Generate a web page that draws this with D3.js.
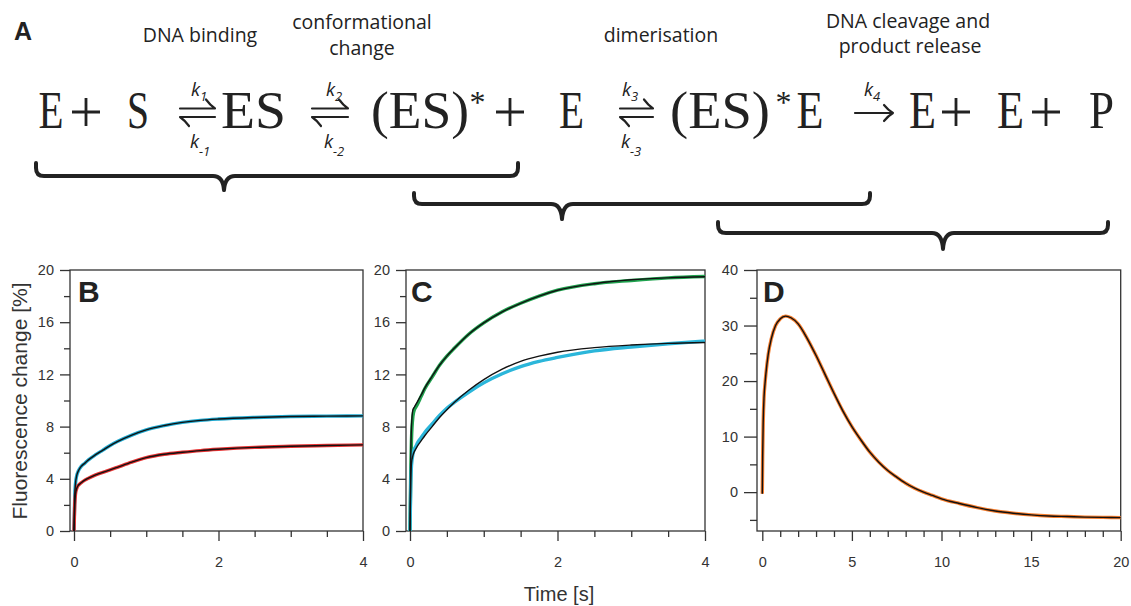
<!DOCTYPE html>
<html><head><meta charset="utf-8">
<script src="https://cdn.jsdelivr.net/npm/d3@7"></script>
<style>body{margin:0;background:#fff}svg{display:block}</style>
</head><body><svg id="c" width="1131" height="606"></svg>
<script>
// ---------- data ----------
const tBC = [0, 0.01, 0.02, 0.04, 0.06, 0.08, 0.1, 0.15, 0.2, 0.3, 0.4, 0.5, 0.6, 0.8, 1.0, 1.25, 1.5, 1.75, 2.0, 2.5, 3.0, 3.5, 4.0];
const cyanB = [0, 2.6, 3.6, 4.3, 4.6, 4.8, 4.95, 5.2, 5.45, 5.85, 6.2, 6.55, 6.85, 7.35, 7.75, 8.08, 8.32, 8.48, 8.58, 8.7, 8.77, 8.8, 8.82];
const redB  = [0, 2.0, 2.8, 3.3, 3.5, 3.6, 3.7, 3.9, 4.05, 4.3, 4.5, 4.68, 4.88, 5.28, 5.62, 5.88, 6.03, 6.16, 6.26, 6.41, 6.49, 6.55, 6.6];
const greenC    = [0, 4.5, 7.0, 8.8, 9.3, 9.5, 9.7, 10.3, 10.9, 11.8, 12.7, 13.4, 14.0, 15.1, 15.95, 16.8, 17.45, 18.0, 18.45, 18.95, 19.2, 19.4, 19.5];
const greenCFit = [0, 5.5, 8.0, 9.3, 9.5, 9.7, 9.9, 10.4, 10.95, 11.85, 12.7, 13.4, 14.0, 15.1, 15.95, 16.8, 17.45, 18.0, 18.45, 18.95, 19.25, 19.4, 19.48];
const cyanC     = [0, 3.5, 5.0, 5.9, 6.3, 6.5, 6.75, 7.15, 7.55, 8.2, 8.85, 9.4, 9.85, 10.65, 11.35, 12.05, 12.6, 13.0, 13.3, 13.8, 14.1, 14.35, 14.55];
const cyanCFit  = [0, 3.8, 5.2, 5.8, 6.1, 6.3, 6.5, 6.9, 7.3, 8.0, 8.7, 9.3, 9.85, 10.8, 11.6, 12.4, 13.0, 13.4, 13.7, 14.05, 14.25, 14.38, 14.45];
const tD = [0, 0.02, 0.05, 0.1, 0.15, 0.2, 0.33, 0.5, 0.74, 1.0, 1.3, 1.6, 2.0, 2.5, 3.0, 3.5, 4.0, 4.5, 5.0, 5.5, 6.0, 6.5, 7.0, 7.5, 8.0, 8.5, 9.0, 9.5, 10, 11, 12, 13, 14, 15, 16, 17, 18, 19, 20];
const orangeD = [-0.3, 6.5, 12.5, 17.3, 19.5, 21.3, 24.8, 27.6, 30.0, 31.2, 31.7, 31.4, 30.3, 27.7, 24.6, 21.2, 17.8, 14.6, 11.8, 9.4, 7.2, 5.4, 3.9, 2.7, 1.6, 0.7, 0.0, -0.6, -1.2, -2.05, -2.8, -3.4, -3.8, -4.1, -4.3, -4.4, -4.5, -4.55, -4.6];

const yMajorBC = [0, 4, 8, 12, 16, 20];
const yMinorBC = [2, 6, 10, 14, 18];
const xMajorBC = [0, 2, 4];
const xMinorBC = [0.5, 1, 1.5, 2.5, 3, 3.5];
const yMajorD = [0, 10, 20, 30, 40];
const yMinorD = [-5, 5, 15, 25, 35];
const xMajorD = [0, 5, 10, 15, 20];
const xMinorD = [1,2,3,4,6,7,8,9,11,12,13,14,16,17,18,19];

const stepLabels = ["DNA binding", "conformational", "change", "dimerisation", "DNA cleavage and", "product release"];
const eqTokens = ["E", "S", "ES", "(ES)", "E", "(ES)", "E", "E", "E", "P"];

// ---------- drawing ----------
const svg = d3.select("#c");
const ink = "#222";

// Panel A: scheme
svg.append("text").attr("x", 14).attr("y", 40).text("A")
  .attr("font-family", "Liberation Sans, Arial, sans-serif").attr("font-weight", "bold")
  .attr("font-size", 25).attr("fill", ink);

const labPos = [[200, 42], [362, 29], [362, 55], [661, 42], [908, 28], [910, 53]];
stepLabels.forEach((s, i) => {
  svg.append("text").attr("x", labPos[i][0]).attr("y", labPos[i][1]).text(s)
    .attr("text-anchor", "middle").attr("font-family", "Open Sans, sans-serif")
    .attr("font-size", 19.5).attr("fill", ink);
});

const eqX = [51, 138, 253.5, 420, 571.5, 720, 810, 922.5, 1010.5, 1101.5];
const eqW = [25, 22, 65, 98, 25, 100, 27, 27, 27, 25];
eqTokens.forEach((s, i) => {
  svg.append("text").attr("x", eqX[i]).attr("y", 128).text(s)
    .attr("text-anchor", "middle").attr("font-family", "Liberation Serif, serif")
    .attr("font-size", 52).attr("fill", ink)
    .attr("textLength", eqW[i]).attr("lengthAdjust", "spacingAndGlyphs");
});
[477.5, 783.5].forEach(cx => {
  svg.append("text").attr("x", cx).attr("y", 113).text("*")
    .attr("text-anchor", "middle").attr("font-family", "Liberation Serif, serif")
    .attr("font-size", 32).attr("fill", ink);
});
// plus signs
[86, 510, 956, 1046].forEach(cx => {
  svg.append("path").attr("d", `M${cx-14},112 H${cx+14} M${cx},98 V126`)
    .attr("stroke", ink).attr("stroke-width", 2.8).attr("fill", "none");
});

// equilibrium harpoons
[[180, 215], [312, 348], [620, 653]].forEach(([a, b]) => {
  svg.append("path")
    .attr("d", `M${a},108.5 L${b},108.5 Q${b-5},105 ${b-9},99.5 M${b},117 L${a},117 Q${a+5},120.5 ${a+9},126`)
    .attr("fill", "none").attr("stroke", ink).attr("stroke-width", 2.2)
    .attr("stroke-linejoin", "round").attr("stroke-linecap", "round");
});
svg.append("path").attr("d", "M855,113 L893,113 M884,105 Q888,110 893,113 Q888,116 884,121")
  .attr("fill", "none").attr("stroke", ink).attr("stroke-width", 2.2)
  .attr("stroke-linejoin", "round").attr("stroke-linecap", "round");

// rate constants
const kUp = [["1", 191], ["2", 326], ["3", 622], ["4", 864]];
const kDown = [["-1", 190], ["-2", 324], ["-3", 621]];
function kLabel(sub, x, y, dy) {
  const t = svg.append("text").attr("x", x).attr("y", y)
    .attr("font-family", "Open Sans, sans-serif").attr("font-style", "italic")
    .attr("font-size", 18.5).attr("fill", ink);
  t.append("tspan").text("k");
  t.append("tspan").attr("dy", dy).attr("font-size", 13).text(sub);
}
kUp.forEach(([s, x]) => kLabel(s, x, 96, 5));
kDown.forEach(([s, x]) => kLabel(s, x, 148, 8));

// braces
function brace(x0, x1, xc, top, line, tip) {
  const r = 8, r2 = 11;
  const d = `M${x0},${top} L${x0},${line-r} Q${x0},${line} ${x0+r},${line} L${xc-r2},${line} Q${xc-1},${line} ${xc},${tip}` +
            ` M${xc},${tip} Q${xc+1},${line} ${xc+r2},${line} L${x1-r},${line} Q${x1},${line} ${x1},${line-r} L${x1},${top}`;
  svg.append("path").attr("d", d).attr("fill", "none").attr("stroke", ink)
    .attr("stroke-width", 4).attr("stroke-linecap", "round").attr("stroke-linejoin", "round");
}
brace(36, 518, 224, 163, 176, 190);
brace(414, 870, 562, 193, 204, 219);
brace(718, 1108, 943, 222, 233, 249);

// ---------- plots ----------
const axisCol = "#333";
function panel(cfg) {
  const x = d3.scaleLinear().domain(cfg.xd).range([cfg.px0, cfg.px1]);
  const y = d3.scaleLinear().domain(cfg.yd).range([531, 270]);
  const g = svg.append("g");
  const styleAxis = s => {
    s.select(".domain").remove();
    s.selectAll("line").attr("stroke", axisCol).attr("stroke-width", 1.3);
    s.selectAll("text").attr("fill", axisCol).attr("font-size", 14.5)
      .attr("font-family", "Liberation Sans, Arial, sans-serif");
  };
  g.append("g").attr("transform", `translate(${cfg.spine},0)`)
    .call(d3.axisLeft(y).tickValues(cfg.yMajor).tickSize(cfg.tMaj).tickPadding(6)).call(styleAxis);
  g.append("g").attr("transform", `translate(${cfg.spine},0)`)
    .call(d3.axisLeft(y).tickValues(cfg.yMinor).tickSize(cfg.tMin).tickFormat("")).call(styleAxis);
  g.append("g").attr("transform", `translate(0,531)`)
    .call(d3.axisBottom(x).tickValues(cfg.xMajor).tickSize(10).tickPadding(16).tickFormat(d3.format("d"))).call(styleAxis);
  g.append("g").attr("transform", `translate(0,531)`)
    .call(d3.axisBottom(x).tickValues(cfg.xMinor).tickSize(6).tickFormat("")).call(styleAxis);
  g.append("rect").attr("x", cfg.spine).attr("y", 270).attr("width", cfg.px1 - cfg.spine)
    .attr("height", 261).attr("fill", "none").attr("stroke", axisCol).attr("stroke-width", 1.3);

  cfg.series.forEach(s => {
    const line = d3.line().x((d, i) => x(s.t[i])).y(d => y(d)).curve(d3.curveMonotoneX);
    g.append("path").datum(s.v).attr("d", line).attr("fill", "none")
      .attr("stroke", s.color).attr("stroke-width", 3.4).attr("stroke-linejoin", "round");
  });
  cfg.series.forEach(s => {
    const line = d3.line().x((d, i) => x(s.t[i])).y(d => y(d)).curve(d3.curveMonotoneX);
    g.append("path").datum(s.fit).attr("d", line).attr("fill", "none")
      .attr("stroke", "#111").attr("stroke-width", 1.4).attr("stroke-linejoin", "round");
  });
  g.append("text").attr("x", cfg.letterX).attr("y", 302).text(cfg.letter)
    .attr("font-family", "Liberation Sans, Arial, sans-serif").attr("font-weight", "bold")
    .attr("font-size", 30).attr("fill", ink);
}

panel({xd: [0, 4], yd: [0, 20], px0: 74, px1: 363, spine: 70, tMaj: 10, tMin: 6,
  yMajor: yMajorBC, yMinor: yMinorBC, xMajor: xMajorBC, xMinor: xMinorBC, letter: "B", letterX: 78,
  series: [{t: tBC, v: cyanB, fit: cyanB, color: "#1ea8cf"}, {t: tBC, v: redB, fit: redB, color: "#e63232"}]});
panel({xd: [0, 4], yd: [0, 20], px0: 410, px1: 705, spine: 406, tMaj: 10, tMin: 6,
  yMajor: yMajorBC, yMinor: yMinorBC, xMajor: xMajorBC, xMinor: xMinorBC, letter: "C", letterX: 411,
  series: [{t: tBC, v: greenC, fit: greenCFit, color: "#1fa24e"}, {t: tBC, v: cyanC, fit: cyanCFit, color: "#2bb6da"}]});
panel({xd: [0, 20], yd: [-7, 40], px0: 762.3, px1: 1120.7, spine: 757, tMaj: 13, tMin: 7,
  yMajor: yMajorD, yMinor: yMinorD, xMajor: xMajorD, xMinor: xMinorD, letter: "D", letterX: 763,
  series: [{t: tD, v: orangeD, fit: orangeD, color: "#f47c2c"}]});

svg.append("text").attr("transform", "translate(27,401) rotate(-90)").attr("text-anchor", "middle")
  .text("Fluorescence change [%]").attr("font-family", "Liberation Sans, Arial, sans-serif")
  .attr("font-size", 21).attr("fill", axisCol);
svg.append("text").attr("x", 559).attr("y", 601).attr("text-anchor", "middle")
  .text("Time [s]").attr("font-family", "Liberation Sans, Arial, sans-serif")
  .attr("font-size", 20).attr("fill", axisCol);
</script></body></html>
